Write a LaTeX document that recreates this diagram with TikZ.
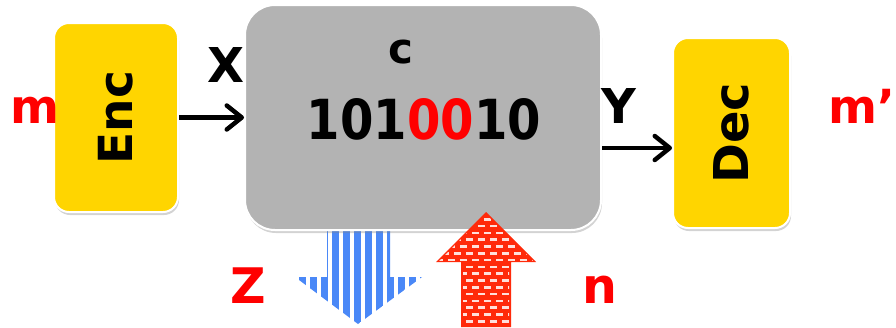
\documentclass[tikz,border=0pt]{standalone}
\usepackage{fontspec}
\setmainfont{DejaVu Sans}
\usetikzlibrary{shadows,arrows.meta}
\definecolor{encyellow}{HTML}{FFD500}
\definecolor{chgray}{HTML}{B3B3B3}
\definecolor{sigred}{HTML}{FF0000}
\definecolor{noisered}{HTML}{FF2A0A}
\definecolor{stripeblue}{HTML}{4A88F7}
\newcommand\fsz[1]{\fontsize{#1}{#1}\selectfont}

\begin{document}
\begin{tikzpicture}[x=1pt,y=-1pt,
  block/.style={draw=white, line width=2pt, rounded corners=15pt, fill=encyellow,
    inner sep=0pt, drop shadow={opacity=0.35, shadow xshift=1pt, shadow yshift=-3pt}},
  lbl/.style={font=\bfseries, inner sep=0pt, anchor=base},
  flow/.style={line width=4.5pt, -{Straight Barb[length=15pt,width=24pt,line width=4.5pt,round]}}
]
\useasboundingbox (0,0) rectangle (896,327);

% outgoing leak: striped downward arrow, partly hidden by the channel
\begin{scope}
  \clip (327,222) -- (390,222) -- (390,277) -- (422,277) -- (358,324)
        -- (295,277) -- (327,277) -- cycle;
  \foreach \k in {0,...,11}
    \fill[stripeblue] (299+11*\k,215) rectangle ++(6.5,115);
\end{scope}

% blocks
\node[block, minimum width=124pt, minimum height=189pt] (enc) at (116,117.5) {};
\node[block, fill=chgray, rounded corners=30pt, minimum width=356pt, minimum height=225pt] (chan) at (423,117.5) {};
\node[block, minimum width=117pt, minimum height=190pt] (dec) at (731.5,133) {};

% incoming noise: brick-patterned upward arrow
\fill[noisered] (486,212) -- (536,262) -- (511,262) -- (511,327) -- (461,327)
      -- (461,262) -- (436,262) -- cycle;
\begin{scope}
  \clip (486,214) -- (533,261) -- (509,261) -- (509,327) -- (463,327)
        -- (463,261) -- (439,261) -- cycle;
  \foreach \j in {0,...,16}{
    \pgfmathsetmacro\off{mod(\j,2)*6}
    \foreach \i in {0,...,9}
      \fill[white, opacity=0.85] (436+\off+12*\i,218+6.8*\j) rectangle ++(7,2.6);
  }
\end{scope}

% connectors
\draw[flow] (enc.east) -- (enc.east -| chan.west);
\draw[flow] ([yshift=-15pt]dec.west -| chan.east) -- ([yshift=-15pt]dec.west);

% block titles
\node[inner sep=0pt, rotate=90, font=\bfseries\fsz{47}] (enctxt) at (enc.center) {Enc};
\node[inner sep=0pt, rotate=90, font=\bfseries\fsz{48}] (dectxt) at (dec.center) {Dec};

% channel contents
\node[lbl, font=\bfseries\fsz{42}] (cw) at (401,63) {c};
\node[inner sep=0pt, anchor=base] (word) at (424,139)
  {\resizebox{234pt}{41pt}{\bfseries 101\textcolor{sigred}{00}10}};

% signal labels
\node[lbl, font=\bfseries\fsz{47}, text=sigred] (msg) at (35,123) {m};
\node[lbl, font=\bfseries\fsz{48}] (xin) at (226,82) {X};
\node[lbl, font=\bfseries\fsz{48}] (yout) at (619,123) {Y};
\node[lbl, font=\bfseries\fsz{47}, text=sigred] (est) at (862,123) {m’};
\node[lbl, font=\bfseries\fsz{49}, text=sigred] (zlab) at (248,303) {Z};
\node[lbl, font=\bfseries\fsz{49}, text=sigred] (nlab) at (600,303) {n};
\end{tikzpicture}
\end{document}
